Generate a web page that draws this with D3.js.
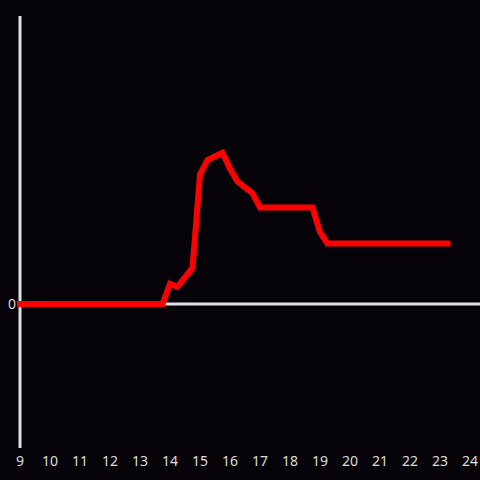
<!DOCTYPE html>
<html>
<head>
<meta charset="utf-8">
<script src="https://cdn.jsdelivr.net/npm/d3@7"></script>
<style>
  html, body { margin: 0; padding: 0; background: #050307; }
  svg { display: block; }
</style>
</head>
<body>
<svg width="480" height="480"></svg>
<script>
// hour of day and value (arbitrary units)
let hours  = [9, 13.75, 14, 14.25, 14.75, 15, 15.25, 15.75, 16, 16.25, 16.75, 17, 18.75, 19, 19.25, 23.25];
let values = [0, 0, 14, 12, 25, 90, 100, 105, 94, 85, 77, 67, 67, 50, 42, 42];
let xTicks = d3.range(9, 25);
let yTicks = [0];

let svg = d3.select('svg');
let width = 480;
let height = 480;
let font = '"Noto Sans", Roboto, sans-serif';

let x = d3.scaleLinear()
          .domain([9, 24])
          .range([20, 470]);

let y = d3.scaleLinear()
          .domain([-100, 200])
          .range([448, 16]);

svg.append('rect')
  .attr('width', width)
  .attr('height', height)
  .attr('fill', '#050307');

// zero line
svg.append('line')
  .attr('x1', x(9))
  .attr('x2', width)
  .attr('y1', y(0))
  .attr('y2', y(0))
  .attr('stroke', '#e0e0e0')
  .attr('stroke-width', 3);

// y axis line
svg.append('line')
  .attr('x1', x(9))
  .attr('x2', x(9))
  .attr('y1', y(200))
  .attr('y2', y(-100))
  .attr('stroke', '#e0e0e0')
  .attr('stroke-width', 3);

// x tick labels
svg.append('g')
  .selectAll('text')
  .data(xTicks)
  .enter().append('text')
  .attr('x', function(d) { return x(d); })
  .attr('y', 466)
  .attr('text-anchor', 'middle')
  .attr('font-family', font)
  .attr('font-size', 14)
  .attr('fill', '#dddddd')
  .text(function(d) { return d; });

// y tick labels
svg.append('g')
  .selectAll('text')
  .data(yTicks)
  .enter().append('text')
  .attr('x', 16)
  .attr('y', function(d) { return y(d); })
  .attr('dy', '0.35em')
  .attr('text-anchor', 'end')
  .attr('font-family', font)
  .attr('font-size', 14)
  .attr('fill', '#dddddd')
  .text(function(d) { return d; });

let line = d3.line()
  .x(function(d, i) { return x(hours[i]); })
  .y(function(d) { return y(d); });

svg.append('path')
  .datum(values)
  .attr('d', line)
  .attr('fill', 'none')
  .attr('stroke', '#ff0000')
  .attr('stroke-width', 6)
  .attr('stroke-linecap', 'square')
  .attr('stroke-linejoin', 'miter');
</script>
</body>
</html>
